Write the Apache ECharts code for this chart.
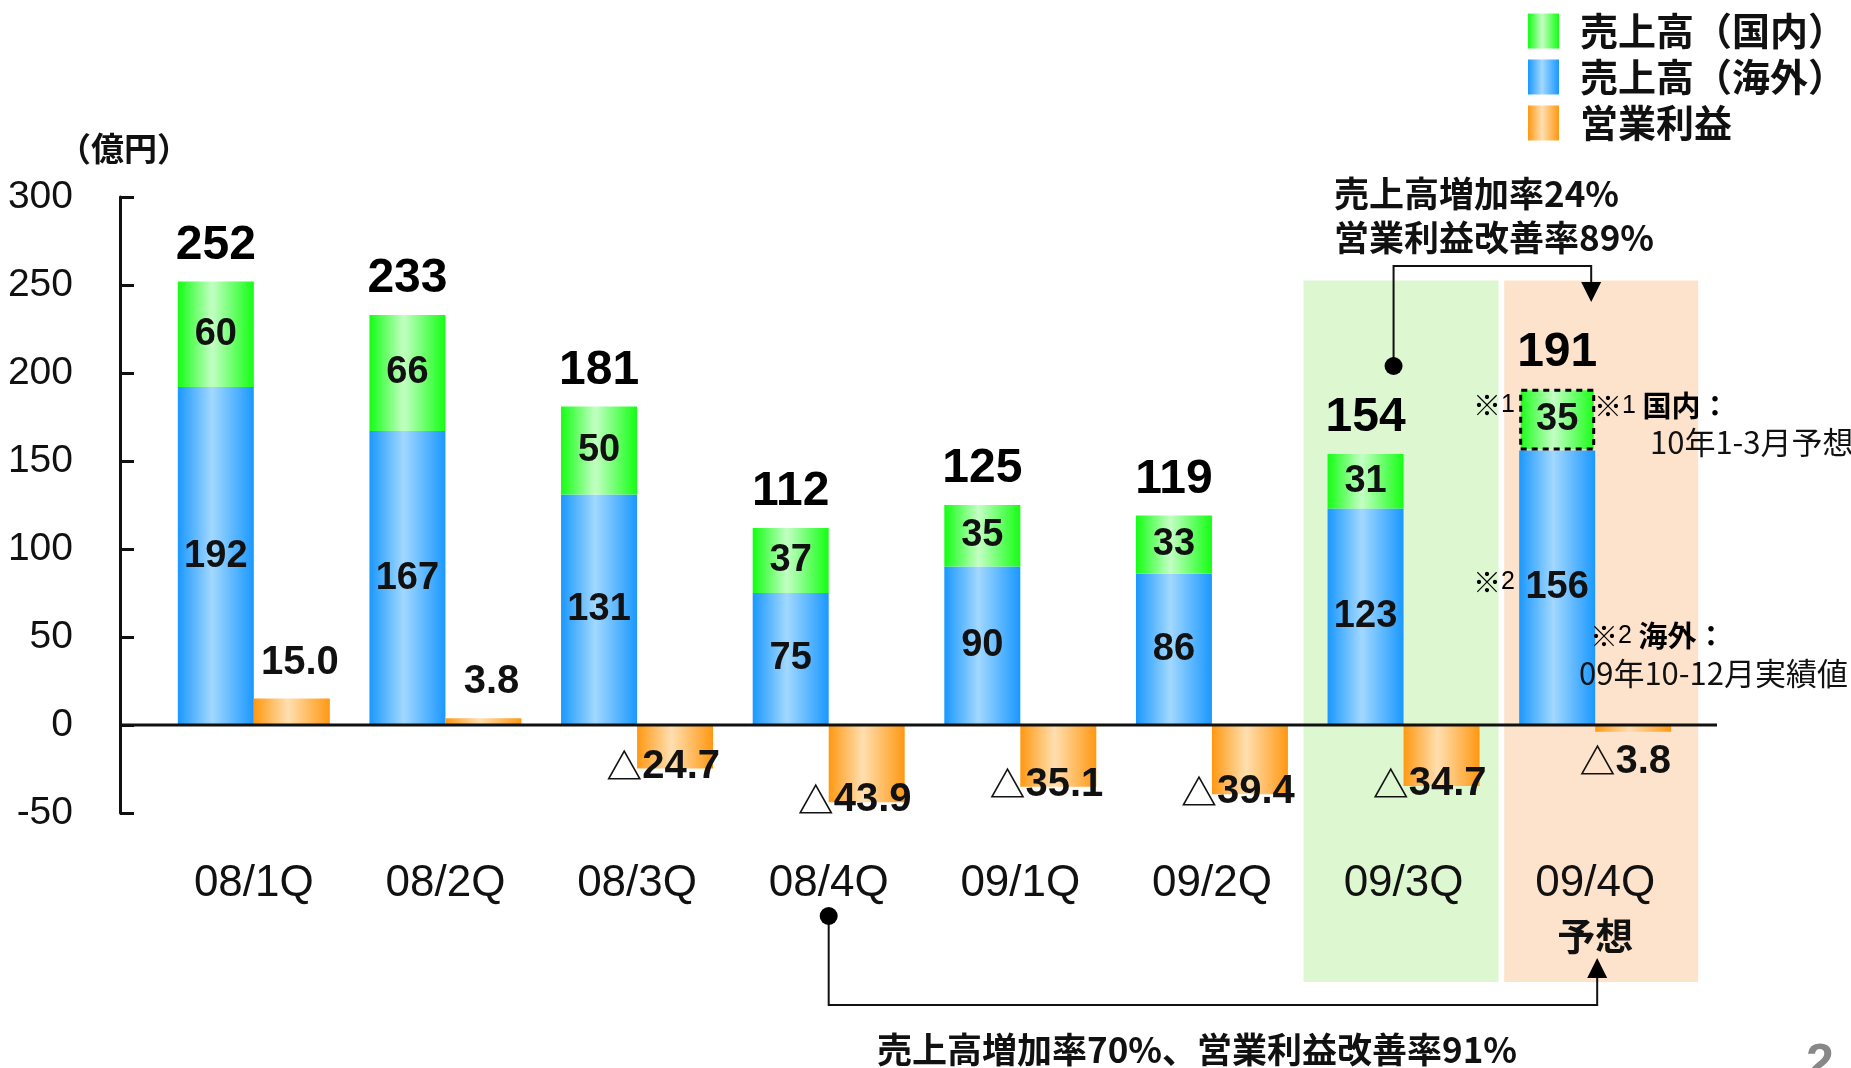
<!DOCTYPE html>
<html>
<head>
<meta charset="utf-8">
<script src="https://cdn.jsdelivr.net/npm/echarts@6/dist/echarts.min.js"></script>
<style>
  html, body { margin: 0; padding: 0; background: #fff; }
  #main { width: 1851px; height: 1068px; }
</style>
</head>
<body>
<div id="main"></div>
<script>
// 四半期ごとの売上高・営業利益（億円）
var categories = ['08/1Q', '08/2Q', '08/3Q', '08/4Q', '09/1Q', '09/2Q', '09/3Q', '09/4Q'];
var catNotes = ['', '', '', '', '', '', '', '予想'];
var overseas = [192, 167, 131, 75, 90, 86, 123, 156];   // 売上高（海外）
var domestic = [60, 66, 50, 37, 35, 33, 31, 35];        // 売上高（国内）
var profit = [15.0, 3.8, -24.7, -43.9, -35.1, -39.4, -34.7, -3.8]; // 営業利益
var yMin = -50, yMax = 300, yStep = 50;

var totals = overseas.map(function (v, i) { return v + domestic[i]; });

var NUM = "'Liberation Sans Narrow', 'Liberation Sans', sans-serif";
var ARIAL = "'Liberation Sans', sans-serif";
var CJK = "'Noto Sans CJK JP', sans-serif";

var GRID_LEFT = 158, GRID_RIGHT = 160, GRID_TOP = 197, GRID_BOTTOM = 255;

function hGrad(edge, mid) {
  return new echarts.graphic.LinearGradient(0, 0, 1, 0, [
    { offset: 0, color: edge },
    { offset: 0.45, color: mid },
    { offset: 1, color: edge }
  ]);
}

var blueFill = hGrad('#1a98ff', '#a2d8ff');
var greenFill = hGrad('#14ff14', '#c4ffc4');
var orangeFill = hGrad('#ff9812', '#ffdfb0');

var chart = echarts.init(document.getElementById('main'));

var domesticData = domestic.map(function (v, i) {
  if (catNotes[i] === '予想') {
    return { value: v, itemStyle: { borderColor: '#000', borderWidth: 3, borderType: [6, 5] } };
  }
  return v;
});

var profitData = profit.map(function (v) {
  var lbl;
  if (v >= 0) {
    lbl = { position: 'top', distance: 16, offset: [8, 0] };
  } else if (v > -10) {
    lbl = { position: 'bottom', distance: 0, offset: [-8, 10] };
  } else {
    lbl = { position: 'bottom', distance: 0, offset: [-12, -22] };
  }
  return { value: v, label: lbl };
});

var segLabel = {
  show: true,
  position: 'inside',
  color: '#111',
  fontFamily: NUM,
  fontWeight: 'bold',
  fontSize: 38
};

var option = {
  animation: false,
  backgroundColor: '#fff',
  grid: { left: GRID_LEFT, right: GRID_RIGHT, top: GRID_TOP, bottom: GRID_BOTTOM },
  legend: {
    data: ['売上高（国内）', '売上高（海外）', '営業利益'],
    orient: 'vertical',
    left: 1528,
    top: 12,
    padding: 0,
    icon: 'rect',
    itemWidth: 31,
    itemHeight: 35,
    itemGap: 8,
    selectedMode: false,
    textStyle: {
      fontFamily: CJK,
      fontWeight: 'bold',
      fontSize: 38,
      color: '#111',
      padding: [0, 0, 0, 16]
    }
  },
  xAxis: {
    type: 'category',
    data: categories,
    axisLine: { show: false },
    axisTick: { show: false },
    axisLabel: {
      margin: 45,
      interval: 0,
      formatter: function (val, idx) {
        return catNotes[idx] ? '{a|' + val + '}\n{b|' + catNotes[idx] + '}' : '{a|' + val + '}';
      },
      rich: {
        a: { fontFamily: ARIAL, fontSize: 44, color: '#111', lineHeight: 52 },
        b: { fontFamily: CJK, fontWeight: 'bold', fontSize: 38, color: '#111', lineHeight: 52 }
      }
    }
  },
  yAxis: {
    type: 'value',
    min: yMin,
    max: yMax,
    interval: yStep,
    offset: 38,
    splitLine: { show: false },
    axisLine: { show: true, lineStyle: { color: '#111', width: 3 } },
    axisTick: { show: true, inside: true, length: 14, lineStyle: { color: '#111', width: 3 } },
    axisLabel: { margin: 47, fontFamily: NUM, fontSize: 39, color: '#111' }
  },
  series: [
    {
      name: '売上高（海外）',
      type: 'bar',
      stack: 'sales',
      barWidth: 76,
      barGap: '0%',
      data: overseas,
      itemStyle: { color: blueFill },
      label: segLabel
    },
    {
      name: '売上高（国内）',
      type: 'bar',
      stack: 'sales',
      barWidth: 76,
      barGap: '0%',
      data: domesticData,
      itemStyle: { color: greenFill },
      label: segLabel
    },
    {
      name: '合計',
      type: 'bar',
      stack: 'sales',
      barWidth: 76,
      barGap: '0%',
      data: totals.map(function () { return 0; }),
      itemStyle: { color: 'transparent' },
      label: {
        show: true,
        position: 'top',
        distance: 12,
        fontFamily: ARIAL,
        fontWeight: 'bold',
        fontSize: 48,
        color: '#000',
        formatter: function (p) { return totals[p.dataIndex]; }
      }
    },
    {
      name: '営業利益',
      type: 'bar',
      stack: 'profit',
      barWidth: 76,
      barGap: '0%',
      data: profitData,
      itemStyle: { color: orangeFill },
      label: {
        show: true,
        color: '#111',
        formatter: function (p) {
          var v = p.value;
          return v < 0 ? '{t|△}{v|' + Math.abs(v).toFixed(1) + '}' : '{v|' + v.toFixed(1) + '}';
        },
        rich: {
          t: { fontFamily: CJK, fontWeight: 'bold', fontSize: 36, color: '#111' },
          v: { fontFamily: NUM, fontWeight: 'bold', fontSize: 40, color: '#111' }
        }
      }
    }
  ]
};

chart.setOption(option);

// 注記・背景・矢印
function cx(i) { return chart.convertToPixel({ xAxisIndex: 0 }, categories[i]); }
function py(v) { return chart.convertToPixel({ yAxisIndex: 0 }, v); }

var c3 = cx(3), c6 = cx(6), c7 = cx(7);
var y0 = py(0);
var boxTop = py(252.5), boxBottom = 982;

function txt(text, x, y, size, extra) {
  var st = {
    text: text, x: x, y: y,
    fill: '#111',
    fontFamily: CJK,
    fontWeight: 'bold',
    fontSize: size,
    verticalAlign: 'middle',
    align: 'left'
  };
  if (extra) for (var k in extra) st[k] = extra[k];
  return { type: 'text', z: 20, style: st };
}

var markRich = {
  k: { fontFamily: CJK, fontSize: 28, color: '#111' },
  n: { fontFamily: NUM, fontSize: 25, color: '#111' },
  w: { fontFamily: CJK, fontWeight: 'bold', fontSize: 29, color: '#111' }
};

var graphics = [
  { type: 'rect', z: -5, shape: { x: c6 - 100, y: boxTop, width: 195, height: boxBottom - boxTop }, style: { fill: '#ddf8d1' } },
  { type: 'rect', z: -5, shape: { x: c7 - 91, y: boxTop, width: 194, height: boxBottom - boxTop }, style: { fill: '#fde3cc' } },
  { type: 'line', z: 10, shape: { x1: GRID_LEFT - 38, y1: y0, x2: 1717, y2: y0 }, style: { stroke: '#111', lineWidth: 3 } },

  txt('（億円）', 124, 148, 33, { align: 'center' }),

  // 09/3Q → 09/4Q
  txt('売上高増加率24%', 1334, 194, 35),
  txt('営業利益改善率89%', 1334, 238, 35),
  { type: 'polyline', z: 20, shape: { points: [[c6 - 10, 366], [c6 - 10, 266], [c7 - 4, 266], [c7 - 4, 284]] }, style: { stroke: '#111', lineWidth: 2, fill: null } },
  { type: 'polygon', z: 20, shape: { points: [[c7 - 14, 282], [c7 + 6, 282], [c7 - 4, 302]] }, style: { fill: '#000' } },
  { type: 'circle', z: 20, shape: { cx: c6 - 10, cy: 366, r: 9 }, style: { fill: '#000' } },

  // 08/4Q → 09/4Q
  { type: 'polyline', z: 20, shape: { points: [[c3, 916], [c3, 1005], [c7 + 2, 1005], [c7 + 2, 976]] }, style: { stroke: '#111', lineWidth: 2, fill: null } },
  { type: 'polygon', z: 20, shape: { points: [[c7 - 8, 978], [c7 + 12, 978], [c7 + 2, 958]] }, style: { fill: '#000' } },
  { type: 'circle', z: 20, shape: { cx: c3, cy: 916, r: 9 }, style: { fill: '#000' } },
  txt('売上高増加率70%、営業利益改善率91%', 877, 1050, 35),

  // 注記
  { type: 'text', z: 20, style: { text: '{k|※}{n|1}', x: 1494, y: 405, align: 'center', verticalAlign: 'middle', rich: markRich } },
  { type: 'text', z: 20, style: { text: '{k|※}{n|1}{w| 国内：}', x: 1594, y: 406, align: 'left', verticalAlign: 'middle', rich: markRich } },
  txt('10年1-3月予想', 1650, 442, 31, { fontWeight: 'normal' }),
  { type: 'text', z: 20, style: { text: '{k|※}{n|2}', x: 1494, y: 582, align: 'center', verticalAlign: 'middle', rich: markRich } },
  { type: 'text', z: 20, style: { text: '{k|※}{n|2}{w| 海外：}', x: 1590, y: 636, align: 'left', verticalAlign: 'middle', rich: markRich } },
  txt('09年10-12月実績値', 1579, 673, 31, { fontWeight: 'normal' }),

  // ページ番号
  { type: 'text', z: 20, style: { text: '2', x: 1806, y: 1040, fill: '#888', fontFamily: ARIAL, fontWeight: 'bold', fontSize: 50, verticalAlign: 'top' } }
];

chart.setOption({ graphic: graphics });

window.addEventListener('resize', function () { chart.resize(); });
</script>
</body>
</html>
